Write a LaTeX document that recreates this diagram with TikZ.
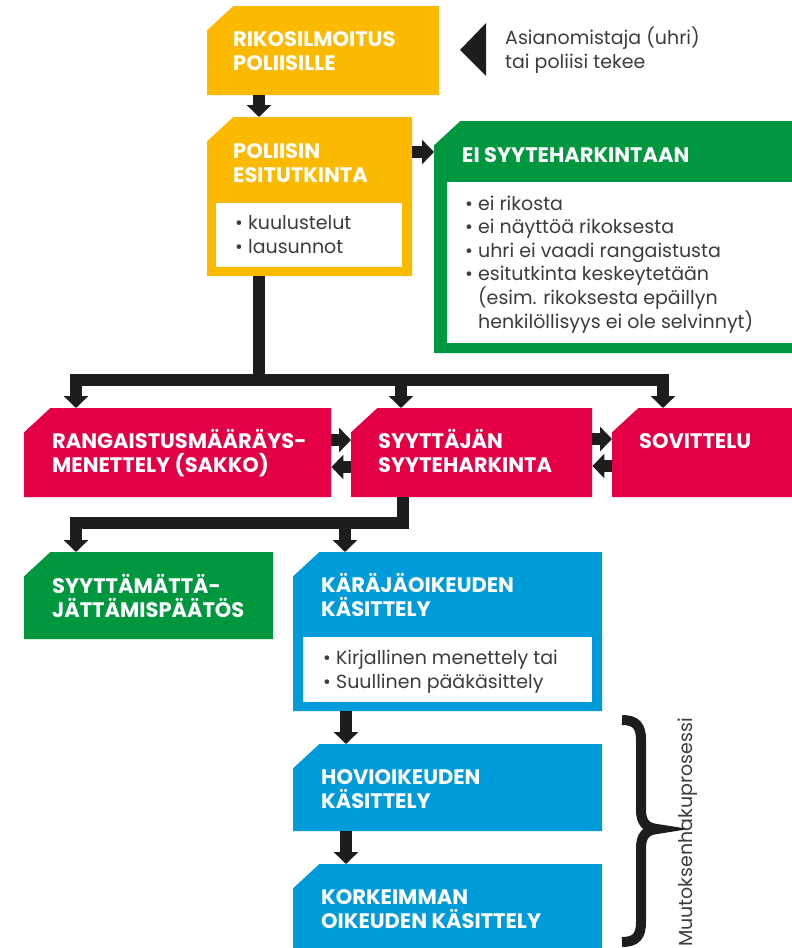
\documentclass[tikz,border=0pt]{standalone}
\usepackage{fontspec}
\setmainfont{Poppins}
\usetikzlibrary{arrows.meta}

\definecolor{keltainen}{HTML}{FBB900}
\definecolor{vihrea}{HTML}{00973F}
\definecolor{punainen}{HTML}{E30045}
\definecolor{sininen}{HTML}{009BD9}
\definecolor{musta}{HTML}{1D1D1B}
\definecolor{harmaa}{HTML}{3C3C3B}

\tikzset{
  laatikko/.style={anchor=north west, inner sep=0pt, path picture={
      \fill[#1] ([xshift=26pt]path picture bounding box.north west)
        -- (path picture bounding box.north east)
        -- (path picture bounding box.south east)
        -- (path picture bounding box.south west)
        -- ([yshift=-24pt]path picture bounding box.north west) -- cycle;}},
  valkoinen/.style={anchor=north west, inner sep=0pt, fill=white},
  otsikko/.style={anchor=base west, inner sep=0pt, align=left, text=white,
    font=\bfseries\fontsize{21}{24}\selectfont},
  lista/.style={anchor=base west, inner sep=0pt, align=left, text=harmaa,
    font=\fontsize{19}{23.6}\selectfont},
  viiva/.style={draw=musta, line width=12pt},
  nuoli/.style={viiva, -{Triangle[width=24pt,length=12pt]}},
}

\begin{document}
\begin{tikzpicture}[x=1pt, y=-1pt]
\useasboundingbox (0,0) rectangle (792,948);
\clip (0,0) rectangle (792,948);

% laatikot
\node[laatikko=keltainen, minimum width=232pt, minimum height=89pt] (ilmoitus) at (207,6) {};
\node[laatikko=keltainen, minimum width=205pt, minimum height=159pt] (esitutk) at (207,117) {};
\node[laatikko=vihrea, minimum width=370pt, minimum height=232pt] (eisyyte) at (434,121) {};
\node[laatikko=punainen, minimum width=307pt, minimum height=89pt] (rangaistus) at (24,408) {};
\node[laatikko=punainen, minimum width=241pt, minimum height=89pt] (syyttaja) at (351,408) {};
\node[laatikko=punainen, minimum width=190pt, minimum height=89pt] (sovittelu) at (612,408) {};
\node[laatikko=vihrea, minimum width=249pt, minimum height=87pt] (jattamis) at (24,552) {};
\node[laatikko=sininen, minimum width=309pt, minimum height=159pt] (karaja) at (293,552) {};
\node[laatikko=sininen, minimum width=309pt, minimum height=87pt] (hovi) at (293,744) {};
\node[laatikko=sininen, minimum width=309pt, minimum height=100pt] (korkein) at (293,864) {};

% valkoiset listat
\node[valkoinen, minimum width=186pt, minimum height=64pt] (esitutkL) at (216,203) {};
\node[valkoinen, minimum width=360pt, minimum height=161pt] (eisyyteL) at (447,182) {};
\node[valkoinen, minimum width=289pt, minimum height=65pt] (karajaL) at (303,637) {};

% otsikot (viimeisen rivin perusviiva)
\node[otsikko] (ilmoitusT) at (233,70) {RIKOSILMOITUS\\POLIISILLE};
\node[otsikko] (esitutkT) at (233,182) {POLIISIN\\ESITUTKINTA};
\node[otsikko] (eisyyteT) at (462,162) {EI SYYTEHARKINTAAN};
\node[otsikko] (rangaistusT) at (52,472) {RANGAISTUSMÄÄRÄYS-\\MENETTELY (SAKKO)};
\node[otsikko] (syyttajaT) at (378,472) {SYYTTÄJÄN\\SYYTEHARKINTA};
\node[otsikko] (sovitteluT) at (639,448) {SOVITTELU};
\node[otsikko] (jattamisT) at (52,617) {SYYTTÄMÄTTÄ-\\JÄTTÄMISPÄÄTÖS};
\node[otsikko] (karajaT) at (321,616) {KÄRÄJÄOIKEUDEN\\KÄSITTELY};
\node[otsikko] (hoviT) at (321,808) {HOVIOIKEUDEN\\KÄSITTELY};
\node[otsikko] (korkeinT) at (321,928) {KORKEIMMAN\\OIKEUDEN KÄSITTELY};

% tekstit
\node[lista] (esitutkX) at (235,253) {• kuulustelut\\• lausunnot};
\node[lista] (eisyyteX) at (465,328) {• ei rikosta\\• ei näyttöä rikoksesta\\• uhri ei vaadi rangaistusta\\%
  • esitutkinta keskeytetään\\\hphantom{• }(esim. rikoksesta epäillyn\\\hphantom{• }henkilöllisyys ei ole selvinnyt)};
\node[lista] (karajaX) at (323,688) {• Kirjallinen menettely tai\\• Suullinen pääkäsittely};
\node[lista] (tekija) at (505,68) {Asianomistaja (uhri)\\tai poliisi tekee};
\fill[musta] (460,50) -- (486,23) -- (486,76) -- cycle;

% nuolet
\draw[nuoli] ([xshift=52pt]ilmoitus.south west) -- ([xshift=52pt]esitutk.north west);
\draw[nuoli] ([yshift=-35pt]esitutk.north east) -- ([yshift=-31pt]eisyyte.north west);

\coordinate (haara) at (259,380);
\draw[nuoli] ([xshift=52pt]esitutk.south west) -- (haara) -| ([xshift=52pt]rangaistus.north west);
\draw[nuoli] (haara) -| ([xshift=50pt]syyttaja.north west);
\draw[nuoli] (haara) -| ([xshift=51pt]sovittelu.north west);

\draw[nuoli] ([yshift=-32pt]rangaistus.north east) -- ([yshift=-32pt]syyttaja.north west);
\draw[nuoli] ([yshift=-59pt]syyttaja.north west) -- ([yshift=-59pt]rangaistus.north east);
\draw[nuoli] ([yshift=-31pt]syyttaja.north east) -- ([yshift=-31pt]sovittelu.north west);
\draw[nuoli] ([yshift=-58pt]sovittelu.north west) -- ([yshift=-58pt]syyttaja.north east);

\coordinate (haara2) at (403,523);
\draw[nuoli] ([xshift=52pt]syyttaja.south west) -- (haara2) -| ([xshift=52pt]jattamis.north west);
\draw[nuoli] (haara2) -| ([xshift=52pt]karaja.north west);

\draw[nuoli] ([xshift=53pt]karaja.south west) -- ([xshift=53pt]hovi.north west);
\draw[nuoli] ([xshift=53pt]hovi.south west) -- ([xshift=53pt]korkein.north west);

% muutoksenhaku
\draw[musta, line width=10pt] (622,720) .. controls (636,720) and (641,726) .. (641,740)
  -- (641,810) .. controls (641,822) and (646,828) .. (657,829)
  .. controls (646,830) and (641,836) .. (641,848)
  -- (641,922) .. controls (641,936) and (636,942) .. (622,942);
\node[rotate=90, anchor=base west, inner sep=0pt, text=harmaa, font=\fontsize{19}{20}\selectfont] (muutos) at (692,947) {Muutoksenhakuprosessi};

\end{tikzpicture}
\end{document}
